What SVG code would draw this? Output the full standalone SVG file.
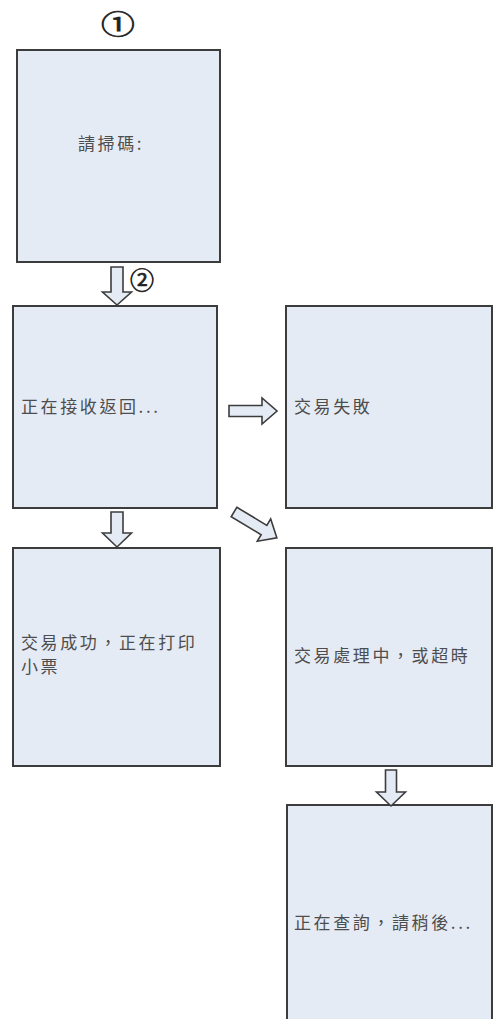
<svg xmlns="http://www.w3.org/2000/svg" width="493" height="1019" viewBox="0 0 493 1019">
<style>
.box{fill:#e5ebf5;stroke:#3c3c3c;stroke-width:2}
.lbl{font-family:"Noto Sans CJK TC","Noto Sans CJK SC",sans-serif;font-size:17px;fill:#4d4d4d;letter-spacing:2.6px}
.arr{fill:#e5ebf5;stroke:#3c3c3c;stroke-width:1.6;stroke-linejoin:miter}
.num{font-family:"Noto Sans CJK SC","DejaVu Sans",sans-serif;fill:#222;stroke:#222;stroke-width:0.7}
</style>
<rect width="493" height="1019" fill="#ffffff"/>
<g id="marker1">
<text class="num" x="0" y="0" font-size="26" text-anchor="middle" transform="translate(118,34) scale(1.3,1)">①</text>
</g>
<g id="marker2">
<text class="num" x="142" y="288.5" font-size="24" text-anchor="middle">②</text>
</g>
<g id="node-scan">
<rect class="box" x="17" y="50" width="203" height="212"/>
<text class="lbl" x="78" y="150">請掃碼:</text>
</g>
<g id="node-receive">
<rect class="box" x="13" y="306" width="204" height="202"/>
<text class="lbl" x="21" y="413">正在接收返回...</text>
</g>
<g id="node-fail">
<rect class="box" x="286" y="306" width="206" height="202"/>
<text class="lbl" x="294" y="413">交易失敗</text>
</g>
<g id="node-success">
<rect class="box" x="13" y="548" width="207" height="218"/>
<text class="lbl" x="21" y="649">交易成功，正在打印</text>
<text class="lbl" x="21" y="673">小票</text>
</g>
<g id="node-processing">
<rect class="box" x="286" y="548" width="206" height="218"/>
<text class="lbl" x="294" y="662">交易處理中，或超時</text>
</g>
<g id="node-query">
<rect class="box" x="287" y="805" width="205" height="230"/>
<text class="lbl" x="294" y="929">正在查詢，請稍後...</text>
</g>
<g id="connectors">
<path class="arr" d="M111,267 L123,267 L123,292 L131.5,292 L117,305 L102.5,292 L111,292 Z"/>
<path class="arr" d="M0,-5.5 L33,-5.5 L33,-13 L48,0 L33,13 L33,5.5 L0,5.5 Z" transform="translate(229,411)"/>
<path class="arr" d="M0,-5.5 L35,-5.5 L35,-13 L50,0 L35,13 L35,5.5 L0,5.5 Z" transform="translate(234,512) rotate(31)"/>
<path class="arr" d="M111,512 L123,512 L123,533 L131.5,533 L117,547 L102.5,533 L111,533 Z"/>
<path class="arr" d="M385.5,770 L396.5,770 L396.5,792 L405.5,792 L391,806 L376.5,792 L385.5,792 Z"/>
</g>
</svg>
